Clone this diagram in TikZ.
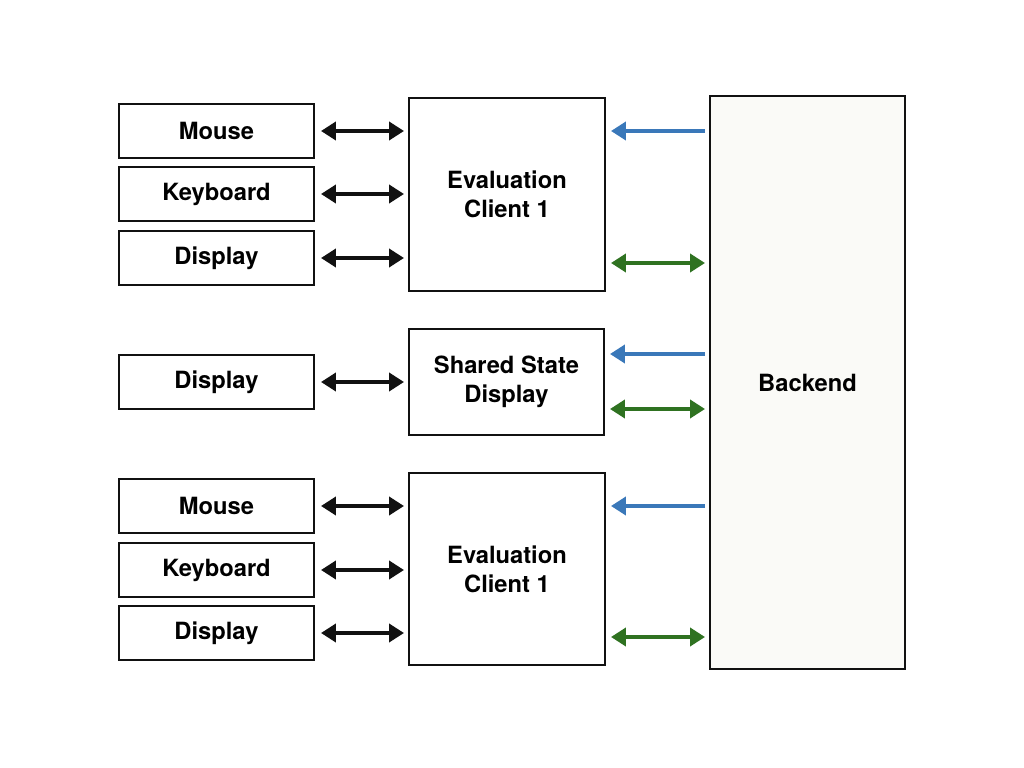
\documentclass[tikz,border=0pt]{standalone}
\usepackage{fontspec}
\setmainfont{TeX Gyre Heros}
\usepackage{tikz}
\usetikzlibrary{arrows.meta,positioning}
\definecolor{ink}{HTML}{111111}
\definecolor{feed}{HTML}{3A78B9}
\definecolor{sync}{HTML}{2F7221}
\definecolor{backfill}{HTML}{FAFAF7}

\begin{document}
\begin{tikzpicture}[
  box/.style={draw=ink,line width=1.1pt,fill=white,inner sep=0pt,align=center,
    minimum width=3.9cm,font=\fontsize{13.5}{16.5}\selectfont\bfseries},
  device/.style={box,minimum height=1.08cm},
  tip/.style={Triangle[length=0.3cm,width=0.36cm]},
  flow/.style={{Triangle[length=0.3cm,width=0.36cm]}-{Triangle[length=0.3cm,width=0.36cm]},
    line width=2.4pt,draw=ink,fill=ink,shorten <=0.12cm,shorten >=0.08cm},
  push/.style={-{Triangle[length=0.3cm,width=0.36cm]},line width=2.4pt,
    draw=feed,fill=feed,shorten <=0.08cm,shorten >=0.1cm},
  both/.style={{Triangle[length=0.3cm,width=0.36cm]}-{Triangle[length=0.3cm,width=0.36cm]},
    line width=2.4pt,draw=sync,fill=sync,shorten <=0.1cm,shorten >=0.08cm}]
\useasboundingbox (0,0) rectangle (20.48,-15.36);
% devices
\node[device] (mouseA) at (4.33,-2.62) {Mouse};
\node[device] (keysA) at (4.33,-3.88) {Keyboard};
\node[device] (screenA) at (4.33,-5.16) {Display};
\node[device] (screenS) at (4.33,-7.64) {Display};
\node[device] (mouseB) at (4.33,-10.12) {Mouse};
\node[device] (keysB) at (4.33,-11.40) {Keyboard};
\node[device] (screenB) at (4.33,-12.66) {Display};
% clients
\node[box,minimum width=3.92cm,minimum height=3.86cm] (clientA) at (10.14,-3.89) {Evaluation\\Client 1};
\node[box,minimum height=2.12cm] (shared) at (10.13,-7.64) {Shared State\\Display};
\node[box,minimum width=3.92cm,minimum height=3.84cm] (clientB) at (10.14,-11.38) {Evaluation\\Client 1};
\node[box,fill=backfill,minimum height=11.46cm] (backend) at (16.15,-7.65) {Backend};
% device links
\draw[flow] (mouseA) -- (clientA.west |- mouseA);
\draw[flow] (keysA) -- (clientA.west |- keysA);
\draw[flow] (screenA) -- (clientA.west |- screenA);
\draw[flow] (screenS) -- (shared);
\draw[flow] (mouseB) -- (clientB.west |- mouseB);
\draw[flow] (keysB) -- (clientB.west |- keysB);
\draw[flow] (screenB) -- (clientB.west |- screenB);
% backend links
\draw[push] (backend.west |- mouseA) -- (clientA.east |- mouseA);
\draw[both] ([yshift=-0.1cm]clientA.east |- screenA) -- ([yshift=-0.1cm]backend.west |- screenA);
\draw[push] ([yshift=0.56cm]backend.west |- shared) -- ([yshift=0.56cm]shared.east);
\draw[both] ([yshift=-0.54cm]shared.east) -- ([yshift=-0.54cm]backend.west |- shared);
\draw[push] (backend.west |- mouseB) -- (clientB.east |- mouseB);
\draw[both] ([yshift=-0.08cm]clientB.east |- screenB) -- ([yshift=-0.08cm]backend.west |- screenB);
\end{tikzpicture}
\end{document}
